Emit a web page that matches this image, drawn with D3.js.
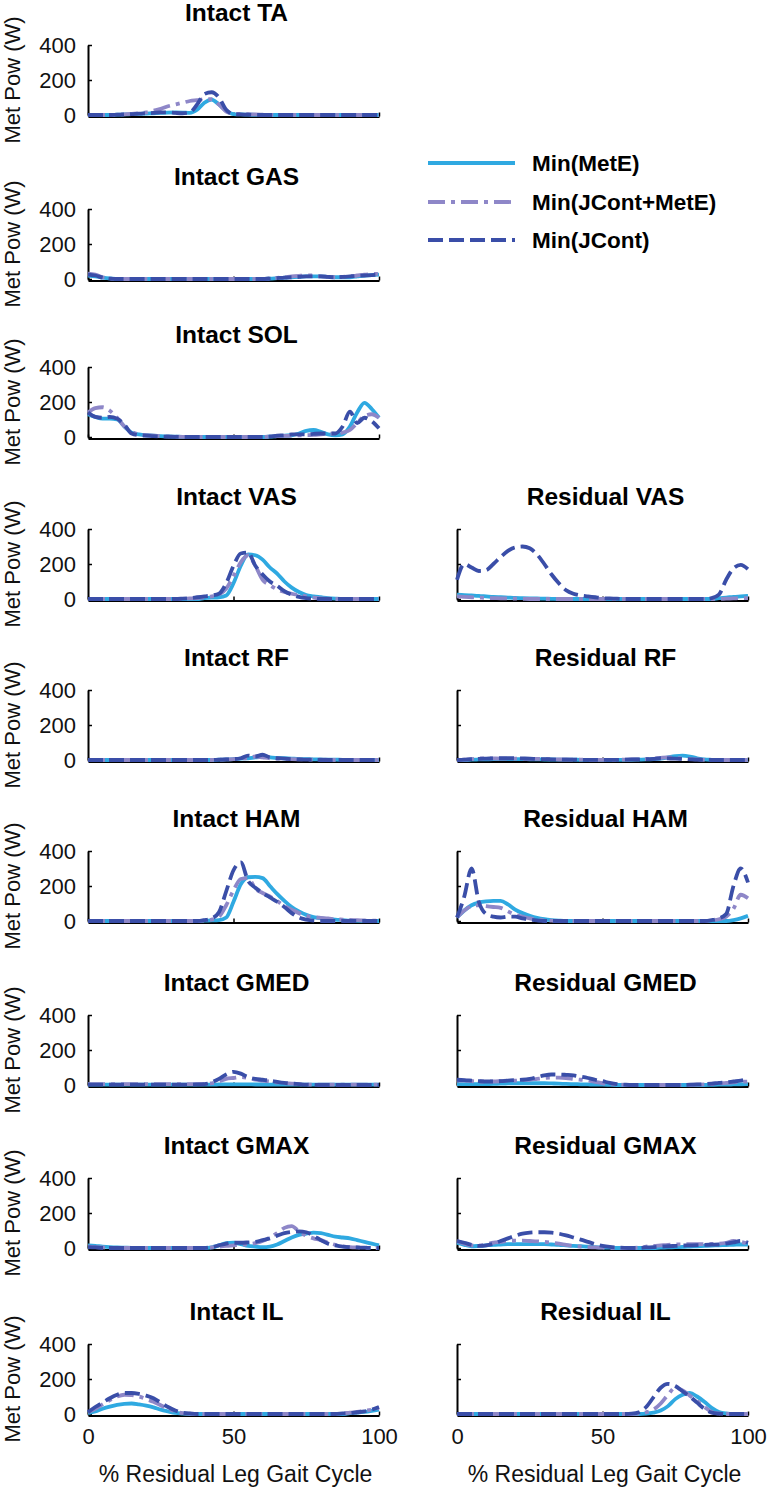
<!DOCTYPE html>
<html><head><meta charset="utf-8">
<script src="https://cdn.jsdelivr.net/npm/d3@7"></script>
<style>body{margin:0;background:#fff}svg{display:block}</style>
</head><body>
<svg id="chart" width="772" height="1489"></svg>
<script>
// ---------------- DATA ----------------
const xPct = [0,2.5,5,7.5,10,12.5,15,17.5,20,22.5,25,27.5,30,32.5,35,37.5,40,42.5,45,47.5,50,52.5,55,57.5,60,62.5,65,67.5,70,72.5,75,77.5,80,82.5,85,87.5,90,92.5,95,97.5,100];
const yTicks = [0,200,400];
const xTicks = [0,50,100];
const seriesNames = ["Min(MetE)","Min(JCont+MetE)","Min(JCont)"];

// Intact TA
const TA_MetE = [0,0,0,0,2,3,5,6,8,10, 12,14,15,14,12,30,70,88,60,25, 5,3,2,1,0,0,0,0,0,0, 0,0,0,0,0,0,0,0,0,0, 0];
const TA_JM   = [0,0,0,0,2,4,6,10,15,25, 35,50,60,70,80,85,90,90,60,20, 8,6,5,3,2,1,0,0,0,0, 0,0,0,0,0,0,0,0,0,0, 0];
const TA_JC   = [0,0,0,0,2,3,5,8,10,12, 15,15,12,10,15,60,120,130,100,30, 5,3,2,0,0,0,0,0,0,0, 0,0,0,0,0,0,0,0,0,0, 0];
// Intact GAS
const GAS_MetE = [20,15,8,3,1,0,0,0,0,0, 0,0,0,0,0,0,0,0,0,0, 0,0,0,0,0,2,5,8,10,12, 15,15,15,12,10,10,10,15,20,22, 25];
const GAS_JM   = [30,25,10,3,0,0,0,0,0,0, 0,0,0,0,0,0,0,0,0,0, 0,0,0,0,0,3,6,10,15,18, 20,20,15,12,10,12,15,20,25,28, 30];
const GAS_JC   = [25,20,8,2,0,0,0,0,0,0, 0,0,0,0,0,0,0,0,0,0, 0,0,0,0,0,2,5,8,10,12, 15,15,15,12,10,12,15,18,20,22, 25];
// Intact SOL
const SOL_MetE = [130,115,105,105,100,60,25,15,10,8, 5,3,2,1,0,0,0,0,0,0, 0,0,0,0,0,2,5,8,10,20, 35,40,30,15,10,15,60,140,195,160, 110];
const SOL_JM   = [140,165,170,150,110,60,30,15,10,8, 5,3,2,1,0,0,0,0,0,0, 0,0,0,0,0,2,5,6,8,9, 10,12,15,18,20,25,40,80,120,130, 110];
const SOL_JC   = [140,115,110,115,105,70,20,10,8,5, 3,2,1,0,0,0,0,0,0,0, 0,0,0,0,0,3,8,10,15,15, 15,18,20,20,20,60,145,80,110,90, 50];
// Intact VAS
const VAS_MetE = [0,0,0,0,0,0,0,0,0,0, 0,0,0,0,0,0,5,8,10,20, 90,190,255,250,225,180,145,100,65,40, 22,15,10,5,2,0,0,0,0,0, 0];
const VAS_JM   = [0,0,0,0,0,0,0,0,0,0, 0,0,0,0,3,5,10,15,25,60, 130,210,250,190,110,80,55,40,30,22, 15,8,4,2,0,0,0,0,0,0, 0];
const VAS_JC   = [0,0,0,0,0,0,0,0,0,0, 0,0,0,2,5,10,15,20,30,90, 190,260,265,190,140,100,75,45,25,12, 5,2,0,0,0,0,0,0,0,0, 0];
// Residual VAS
const RVAS_MetE = [25,22,20,18,15,12,10,8,6,5, 4,3,2,1,0,0,0,0,0,0, 0,0,0,0,0,0,0,0,0,0, 0,0,0,0,0,0,5,8,12,15, 18];
const RVAS_JM   = [15,12,10,8,6,5,4,3,2,1, 0,0,0,0,0,0,0,0,0,0, 0,0,0,0,0,0,0,0,0,0, 0,0,0,0,0,0,0,2,3,5, 5];
const RVAS_JC   = [110,200,180,160,165,200,240,275,295,300, 290,255,200,140,90,50,30,20,15,10, 5,3,2,0,0,0,0,0,0,0, 0,0,0,0,0,5,25,110,175,195, 170];
// Intact RF
const RF_MetE = [0,0,0,0,0,0,0,0,0,0, 0,0,0,0,0,0,0,0,2,3, 5,8,10,15,18,15,12,10,8,6, 5,4,3,2,2,1,1,0,0,0, 0];
const RF_JM   = [0,0,0,0,0,0,0,0,0,0, 0,0,0,0,0,0,0,0,2,3, 5,8,12,20,15,10,8,6,5,4, 3,2,2,1,0,0,0,0,0,0, 0];
const RF_JC   = [0,0,0,0,0,0,0,0,0,0, 0,0,0,0,0,0,0,0,2,3, 5,10,25,20,30,15,10,8,5,3, 2,1,0,0,0,0,0,0,0,0, 0];
// Residual RF
const RRF_MetE = [0,0,2,3,4,5,5,5,5,5, 4,4,3,3,2,2,2,1,1,1, 1,1,1,1,1,2,3,5,8,15, 22,25,20,10,3,1,0,0,0,0, 0];
const RRF_JM   = [0,2,5,8,10,9,8,8,8,7, 6,6,5,4,3,3,2,2,1,1, 1,1,1,2,3,4,5,8,12,15, 12,8,5,3,1,0,0,0,0,0, 0];
const RRF_JC   = [0,2,5,7,8,9,10,10,10,9, 8,6,5,4,3,2,2,1,1,1, 1,1,1,2,3,4,5,7,10,9, 8,6,4,2,1,0,0,0,0,0, 0];
// Intact HAM
const HAM_MetE = [0,0,0,0,0,0,0,0,0,0, 0,0,0,0,0,0,2,3,5,20, 110,210,250,252,245,200,155,115,80,55, 35,22,15,10,8,5,2,1,0,0, 0];
const HAM_JM   = [0,0,0,0,0,0,0,0,0,0, 0,0,0,0,0,0,3,8,25,90, 175,240,245,185,160,140,115,85,65,45, 30,22,18,15,10,8,6,5,3,2, 1];
const HAM_JC   = [0,0,0,0,0,0,0,0,0,0, 0,0,0,0,0,0,5,15,50,170, 290,335,230,190,160,135,110,80,45,20, 8,2,0,0,0,0,0,0,0,0, 0];
// Residual HAM
const RHAM_MetE = [20,60,90,105,112,115,115,95,65,45, 30,18,10,5,2,0,0,0,0,0, 0,0,0,0,0,0,0,0,0,0, 0,0,0,0,0,0,0,0,5,15, 30];
const RHAM_JM   = [20,60,85,90,85,80,75,55,35,25, 15,8,4,2,0,0,0,0,0,0, 0,0,0,0,0,0,0,0,0,0, 0,0,0,0,0,3,10,25,70,150, 130];
const RHAM_JC   = [20,140,300,110,40,25,20,25,25,15, 8,3,0,0,0,0,0,0,0,0, 0,0,0,0,0,0,0,0,0,0, 0,0,0,0,0,5,15,40,200,300, 220];
// Intact GMED
const GMED_MetE = [2,2,2,2,2,2,2,2,2,2, 2,2,2,2,2,2,2,2,3,4, 4,4,4,3,3,2,2,2,2,2, 2,2,2,2,2,2,2,2,2,2, 2];
const GMED_JM   = [5,5,5,5,5,5,5,5,5,5, 5,5,5,5,5,5,6,10,20,35, 40,45,40,30,25,20,15,10,8,5, 3,2,2,2,2,2,2,2,2,2, 2];
const GMED_JC   = [2,2,2,2,2,2,2,2,2,2, 2,2,2,2,2,3,5,15,35,60, 75,65,45,35,30,25,18,12,8,5, 2,1,0,0,0,0,0,0,0,0, 0];
// Residual GMED
const RGMED_MetE = [5,5,5,5,5,6,8,9,10,10, 10,10,10,9,8,6,5,4,3,2, 2,1,0,0,0,0,0,0,0,0, 0,0,0,0,0,1,2,2,3,4, 5];
const RGMED_JM   = [25,25,22,20,20,20,22,25,25,28, 30,35,40,42,42,40,35,30,25,18, 10,5,3,1,0,0,0,0,0,0, 0,0,1,2,3,5,8,12,15,18, 20];
const RGMED_JC   = [30,28,25,22,20,20,22,25,28,30, 35,45,55,60,60,58,55,48,40,30, 22,12,5,2,0,0,0,0,0,0, 0,0,2,3,5,8,12,15,20,25, 35];
// Intact GMAX
const GMAX_MetE = [15,12,8,5,3,2,1,0,0,0, 0,0,0,0,0,0,0,3,15,28, 30,22,12,8,5,8,20,40,60,75, 82,88,85,75,65,60,55,45,35,25, 15];
const GMAX_JM   = [8,5,3,0,0,0,0,0,0,0, 0,0,0,0,0,0,0,3,8,12, 15,18,22,28,40,60,85,115,125,95, 70,55,45,30,18,10,5,3,2,0, 0];
const GMAX_JC   = [5,3,0,0,0,0,0,0,0,0, 0,0,0,0,0,0,0,5,15,25, 30,30,32,35,45,55,70,85,92,95, 90,70,45,25,15,8,5,3,2,0, 0];
// Residual GMAX
const RGMAX_MetE = [30,18,10,12,15,18,20,22,22,22, 22,22,22,20,18,15,12,10,8,5, 3,2,0,0,0,0,0,0,2,3, 5,6,8,10,12,14,15,17,18,20, 20];
const RGMAX_JM   = [40,25,15,15,22,30,35,40,42,42, 40,38,35,30,25,18,12,8,5,3, 2,0,0,0,0,3,8,12,15,18, 20,21,22,22,22,23,25,30,40,35, 25];
const RGMAX_JC   = [40,30,18,12,15,25,40,55,70,82, 88,90,90,88,82,72,60,48,35,22, 12,6,3,1,0,0,3,5,8,10, 12,14,15,16,18,19,20,25,32,40, 30];
// Intact IL
const IL_MetE = [5,15,30,42,52,58,60,55,48,38, 25,15,6,2,0,0,0,0,0,0, 0,0,0,0,0,0,0,0,0,0, 0,0,0,0,0,0,5,8,12,18, 25];
const IL_JM   = [10,30,55,80,100,110,108,100,85,70, 50,30,15,5,2,0,0,0,0,0, 0,0,0,0,0,0,0,0,0,0, 0,0,0,0,0,3,8,12,18,25, 35];
const IL_JC   = [10,40,65,90,110,120,120,115,105,90, 65,40,20,8,3,0,0,0,0,0, 0,0,0,0,0,0,0,0,0,0, 0,0,0,0,0,3,5,10,15,25, 40];
// Residual IL
const RIL_MetE = [0,0,0,0,0,0,0,0,0,0, 0,0,0,0,0,0,0,0,0,0, 0,0,0,0,0,0,2,8,20,45, 85,110,120,100,70,35,12,3,0,0, 0];
const RIL_JM   = [0,0,0,0,0,0,0,0,0,0, 0,0,0,0,0,0,0,0,0,0, 0,0,0,0,0,2,10,25,60,110, 150,135,105,75,40,12,3,0,0,0, 0];
const RIL_JC   = [0,0,0,0,0,0,0,0,0,0, 0,0,0,0,0,0,0,0,0,0, 0,0,0,0,2,10,40,95,150,172, 160,130,100,65,30,8,2,0,0,0, 0];

const panels = [
  {title:"Intact TA",    col:0, row:0, series:[TA_MetE, TA_JM, TA_JC]},
  {title:"Intact GAS",   col:0, row:1, series:[GAS_MetE, GAS_JM, GAS_JC]},
  {title:"Intact SOL",   col:0, row:2, series:[SOL_MetE, SOL_JM, SOL_JC]},
  {title:"Intact VAS",   col:0, row:3, series:[VAS_MetE, VAS_JM, VAS_JC]},
  {title:"Residual VAS", col:1, row:3, series:[RVAS_MetE, RVAS_JM, RVAS_JC]},
  {title:"Intact RF",    col:0, row:4, series:[RF_MetE, RF_JM, RF_JC]},
  {title:"Residual RF",  col:1, row:4, series:[RRF_MetE, RRF_JM, RRF_JC]},
  {title:"Intact HAM",   col:0, row:5, series:[HAM_MetE, HAM_JM, HAM_JC]},
  {title:"Residual HAM", col:1, row:5, series:[RHAM_MetE, RHAM_JM, RHAM_JC]},
  {title:"Intact GMED",  col:0, row:6, series:[GMED_MetE, GMED_JM, GMED_JC]},
  {title:"Residual GMED",col:1, row:6, series:[RGMED_MetE, RGMED_JM, RGMED_JC]},
  {title:"Intact GMAX",  col:0, row:7, series:[GMAX_MetE, GMAX_JM, GMAX_JC]},
  {title:"Residual GMAX",col:1, row:7, series:[RGMAX_MetE, RGMAX_JM, RGMAX_JC]},
  {title:"Intact IL",    col:0, row:8, series:[IL_MetE, IL_JM, IL_JC]},
  {title:"Residual IL",  col:1, row:8, series:[RIL_MetE, RIL_JM, RIL_JC]}
];

// ---------------- LAYOUT / STYLE ----------------
const FONT = "'Liberation Sans', Arial, Helvetica, sans-serif";
const colX = [88, 457];
const plotW = 291, plotH = 70;
const rowBottom = [115, 279, 437, 599, 760, 921, 1085, 1248, 1414];
const colors = ["#2fa9e1", "#8e87c8", "#3a4ea8"];
const dashes = [null, "17,6,4,6", "15,6"];
const LW = 3.8;

const svg = d3.select("#chart");

panels.forEach(p => {
  const x0 = colX[p.col], yb = rowBottom[p.row];
  const x = d3.scaleLinear().domain([0,100]).range([x0, x0 + plotW]);
  const y = d3.scaleLinear().domain([0,400]).range([yb, yb - plotH]);
  const g = svg.append("g");

  // title
  g.append("text")
    .attr("x", x0 + plotW/2 + 3).attr("y", yb - 94)
    .attr("text-anchor", "middle")
    .attr("font-family", FONT).attr("font-size", 24.5).attr("font-weight", "bold")
    .text(p.title);

  // y axis
  const yAxis = d3.axisLeft(y).tickValues(yTicks).tickSizeInner(-4).tickSizeOuter(0).tickPadding(12);
  if (p.col === 1) yAxis.tickFormat("");
  const ya = g.append("g").attr("transform", `translate(${x0},0)`).call(yAxis);
  ya.attr("font-family", FONT).attr("font-size", 22);
  ya.select(".domain").attr("stroke", "#000").attr("stroke-width", 2);
  ya.selectAll(".tick line").attr("stroke", "#000").attr("stroke-width", 1.5);
  ya.selectAll(".tick text").attr("fill", "#111");

  // x axis
  const xAxis = d3.axisBottom(x).tickValues(xTicks).tickSizeInner(-4).tickSizeOuter(0).tickPadding(13);
  if (p.row !== 8) xAxis.tickFormat("");
  const xa = g.append("g").attr("transform", `translate(0,${yb + 1.5})`).call(xAxis);
  xa.attr("font-family", FONT).attr("font-size", 22);
  xa.select(".domain").attr("stroke", "#000").attr("stroke-width", 2);
  xa.selectAll(".tick line").attr("stroke", "#000").attr("stroke-width", 1.5);
  xa.selectAll(".tick text").attr("fill", "#111");

  // y label
  if (p.col === 0) {
    g.append("text")
      .attr("transform", `translate(20,${yb - plotH/2}) rotate(-90)`)
      .attr("text-anchor", "middle")
      .attr("font-family", FONT).attr("font-size", 22).attr("fill", "#111")
      .text("Met Pow (W)");
  }
  // x label
  if (p.row === 8) {
    g.append("text")
      .attr("x", x0 + plotW/2 + 2).attr("y", 1482)
      .attr("text-anchor", "middle")
      .attr("font-family", FONT).attr("font-size", 23).attr("fill", "#111")
      .text("% Residual Leg Gait Cycle");
  }

  // lines
  const line = d3.line().x((d,i) => x(xPct[i])).y(d => y(d)).curve(d3.curveMonotoneX);
  p.series.forEach((s, k) => {
    g.append("path").datum(s)
      .attr("d", line)
      .attr("fill", "none")
      .attr("stroke", colors[k])
      .attr("stroke-width", LW)
      .attr("stroke-dasharray", dashes[k])
      .attr("stroke-linejoin", "round");
  });
});

// legend
const legY = [163, 202, 240];
const leg = svg.append("g");
seriesNames.forEach((n, k) => {
  leg.append("line")
    .attr("x1", 428).attr("x2", 515).attr("y1", legY[k]).attr("y2", legY[k])
    .attr("stroke", colors[k]).attr("stroke-width", LW)
    .attr("stroke-dasharray", dashes[k]);
  leg.append("text")
    .attr("x", 532).attr("y", legY[k] + 8)
    .attr("font-family", FONT).attr("font-size", 22.5).attr("font-weight", "bold")
    .text(n);
});
</script>
</body></html>
